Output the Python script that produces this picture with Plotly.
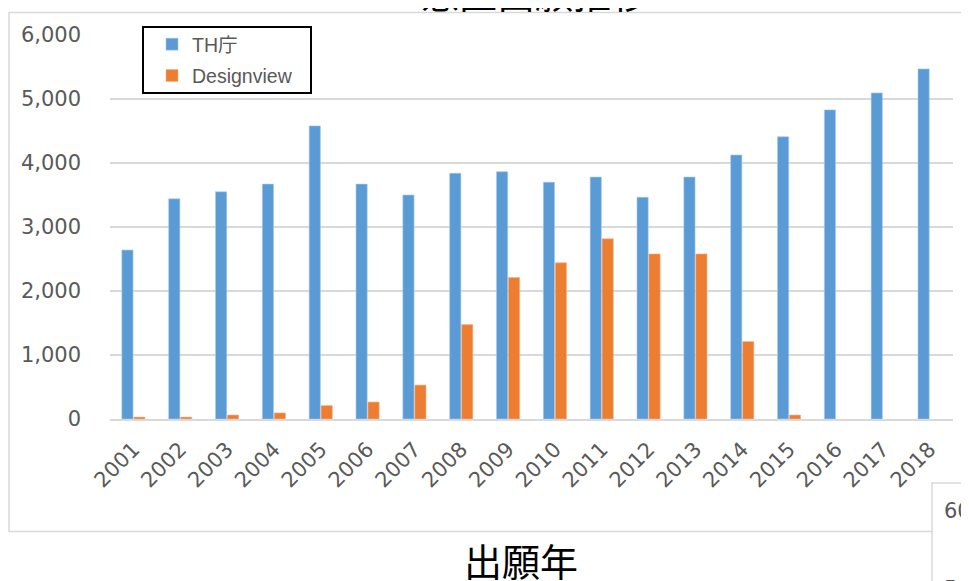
import plotly.graph_objects as go

# application counts per filing year
years = [str(y) for y in range(2001, 2019)]
th_office = [2640, 3440, 3550, 3670, 4580, 3670, 3500, 3840, 3865,
             3700, 3780, 3465, 3780, 4125, 4410, 4830, 5095, 5470]
designview = [30, 30, 62, 95, 210, 265, 530, 1475, 2210,
              2440, 2815, 2580, 2580, 1210, 62, None, None, None]

y_ticks = [0, 1000, 2000, 3000, 4000, 5000, 6000]
y_labels = ["0", "1,000", "2,000", "3,000", "4,000", "5,000", "6,000"]

BLUE = "#5B9BD5"
ORANGE = "#ED7D31"
GRAY_TXT = "#595959"
GRID = "#D9D9D9"
TICK_FONT = "DejaVu Sans, Liberation Sans, sans-serif"

# the page adds an 8px body margin, so the figure is drawn a little smaller
OFF = 8
W, H = 969 - OFF, 581 - OFF
L, R, T, B = 102, 16, 27, 162
PW, PH = W - L - R, H - T - B


def px(x):
    # screen pixel -> paper x
    return (x - OFF - L) / PW


def py(y):
    # screen pixel -> paper y
    return (H - B - (y - OFF)) / PH


fig = go.Figure()
fig.add_trace(go.Bar(x=years, y=th_office, name="TH庁", legendgroup="a",
                     marker=dict(color=BLUE, line=dict(color="#A9CBEB", width=0.6))))
fig.add_trace(go.Bar(x=years, y=designview, name="Designview", legendgroup="b",
                     marker=dict(color=ORANGE, line=dict(color="#F5B48A", width=0.6))))

fig.update_layout(
    width=W, height=H,
    margin=dict(l=L, r=R, t=T, b=B),
    paper_bgcolor="white", plot_bgcolor="white",
    barmode="group", bargap=0.49, bargroupgap=0.06,
    font=dict(family=TICK_FONT, color=GRAY_TXT),
    showlegend=True,
    legend=dict(x=px(152), y=py(25), xanchor="left", yanchor="top",
                bgcolor="rgba(0,0,0,0)", borderwidth=0,
                traceorder="grouped", tracegroupgap=3,
                font=dict(size=19.5, color=GRAY_TXT,
                          family="Liberation Sans, Noto Sans CJK JP, sans-serif")),
)

fig.update_yaxes(range=[0, 6000], tickvals=y_ticks, ticktext=y_labels,
                 showgrid=True, gridcolor=GRID, gridwidth=1.5,
                 zeroline=False, showline=False, ticks="",
                 ticklabelstandoff=28,
                 tickfont=dict(size=21, color=GRAY_TXT))
fig.update_xaxes(type="category", showgrid=False, ticks="",
                 showline=True, linecolor=GRID, linewidth=1.5,
                 tickangle=-45, ticklabelstandoff=8,
                 tickfont=dict(size=21, color=GRAY_TXT))

# outer chart border
fig.add_shape(type="rect", xref="paper", yref="paper",
              x0=px(9), x1=px(990), y0=py(531.5), y1=py(12.5),
              line=dict(color="#D9D9D9", width=1.5), fillcolor="rgba(0,0,0,0)",
              layer="below")
# legend box
fig.add_shape(type="rect", xref="paper", yref="paper",
              x0=px(143), x1=px(311), y0=py(93), y1=py(27),
              line=dict(color="black", width=2), fillcolor="rgba(0,0,0,0)",
              layer="above")
# corner of the neighbouring chart
fig.add_shape(type="rect", xref="paper", yref="paper",
              x0=px(932), x1=px(1010), y0=py(620), y1=py(483),
              line=dict(color="#D9D9D9", width=1.5), fillcolor="white",
              layer="above")

fig.add_annotation(text="600", xref="paper", yref="paper",
                   x=px(942), y=py(511), xanchor="left", yanchor="middle",
                   showarrow=False, font=dict(size=21, color=GRAY_TXT))
fig.add_annotation(text="500", xref="paper", yref="paper",
                   x=px(942), y=py(589), xanchor="left", yanchor="middle",
                   showarrow=False, font=dict(size=21, color=GRAY_TXT))

# title (cut off at top) and axis caption
fig.add_annotation(text="意匠出願推移", xref="paper", yref="paper",
                   x=px(535), y=py(-8), xanchor="center", yanchor="middle",
                   showarrow=False,
                   font=dict(size=38, color="black", family="Noto Sans CJK JP"))
fig.add_annotation(text="出願年", xref="paper", yref="paper",
                   x=px(521), y=py(559), xanchor="center", yanchor="middle",
                   showarrow=False,
                   font=dict(size=38, color="black", family="Noto Sans CJK JP"))

fig.write_html("out.html")
